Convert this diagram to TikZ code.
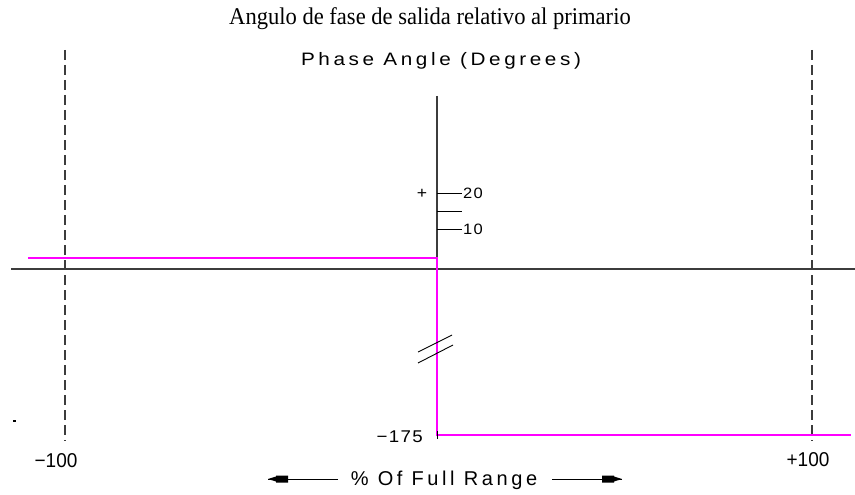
\documentclass[tikz,border=0pt]{standalone}
\usepackage{fontspec}
\setmainfont{Liberation Serif}
\newfontfamily\cadfont{Liberation Sans}[LetterSpace=20,FakeStretch=1.15]
\newfontfamily\rangefont{Liberation Sans}[LetterSpace=18]
\newfontfamily\numfont{Liberation Sans}[LetterSpace=8,FakeStretch=1.1]
\newfontfamily\bignumfont{Liberation Sans}[FakeStretch=0.95]
\newfontfamily\titlefont{Liberation Serif}[FakeStretch=0.94]
\definecolor{mag}{RGB}{255,0,255}
\definecolor{ax}{RGB}{60,60,60}
\begin{document}
\begin{tikzpicture}[x=1pt,y=-1pt,
  axis/.style={draw=ax,line width=1.3pt},
  magline/.style={draw=mag,line width=1.5pt},
  guide/.style={draw=ax,line width=1.2pt,dash pattern=on 10pt off 5pt},
  txt/.style={inner sep=0pt,text=black},
  tick/.style={draw=black,line width=1pt}]
\useasboundingbox (0,0) rectangle (855,495);
% title
\node[txt,anchor=base,font=\titlefont\fontsize{24}{24}\selectfont] (title) at (430,25) {Angulo de fase de salida relativo al primario};
\node[txt,anchor=base,font=\cadfont\fontsize{18}{18}\selectfont] (ylabel) at (441,66) {Phase Angle (Degrees)};
% guides
\coordinate (gl1) at (65,50); \coordinate (gl2) at (65,441);
\coordinate (gr1) at (812,50); \coordinate (gr2) at (812,441);
\draw[guide] (gl1) -- (gl2);
\draw[guide] (gr1) -- (gr2);
% axes
\coordinate (xa1) at (11,269); \coordinate (xa2) at (855,269);
\coordinate (ya1) at (437,96); \coordinate (ya2) at (437,269);
\draw[axis] (xa1) -- (xa2);
\draw[axis] (ya1) -- (ya2);
% ticks
\coordinate (t20) at (437,193); \coordinate (t20e) at (462,193);
\coordinate (t15) at (437,211); \coordinate (t15e) at (462,211);
\coordinate (t10) at (437,229); \coordinate (t10e) at (462,229);
\draw[tick] (t20) -- (t20e);
\draw[tick] (t15) -- (t15e);
\draw[tick] (t10) -- (t10e);
\node[txt,anchor=base west,font=\numfont\fontsize{15}{15}\selectfont] (l20) at (463,198.5) {20};
\node[txt,anchor=base west,font=\numfont\fontsize{15}{15}\selectfont] (l10) at (463,234.5) {10};
\node[txt,font=\numfont\fontsize{16}{16}\selectfont] (plus) at (422,194) {+};
% magenta curve
\coordinate (m1) at (28,258); \coordinate (m2) at (437,258);
\coordinate (m3) at (437,435); \coordinate (m4) at (851,435);
\draw[magline] (m1) -- (m2) -- (m3) -- (m4);
\coordinate (bt1) at (437,431); \coordinate (bt2) at (437,439);
\draw[tick] (bt1) -- (bt2);
% break marks
\coordinate (b1a) at (418,352); \coordinate (b1b) at (452,335);
\coordinate (b2a) at (418,363); \coordinate (b2b) at (453,345);
\draw[black,line width=0.9pt] (b1a) -- (b1b);
\draw[black,line width=0.9pt] (b2a) -- (b2b);
% labels
\node[txt,anchor=base east,font=\numfont\fontsize{17}{17}\selectfont] (l175) at (423,442) {−175};
\node[txt,anchor=base,font=\bignumfont\fontsize{20}{20}\selectfont] (lm100) at (56,467) {−100};
\node[txt,anchor=base,font=\bignumfont\fontsize{20}{20}\selectfont] (lp100) at (808,466) {+100};
\fill[black] (12.5,420) rectangle (15.5,422);
% range label
\node[txt,anchor=base,font=\rangefont\fontsize{20}{20}\selectfont] (range) at (444,485) {\% Of Full Range};
\coordinate (al) at (268,479); \coordinate (ar) at (622,479);
\coordinate (rl) at (338,479); \coordinate (rr) at (552,479);
\draw[black,line width=1pt] (rl) -- (al);
\draw[black,line width=1pt] (rr) -- (ar);
\fill[black] (al) -- ++(8,-2.5) -- ++(0,-1) -- ++(12,0) -- ++(0,7) -- ++(-12,0) -- ++(0,-1) -- cycle;
\fill[black] (ar) -- ++(-8,-2.5) -- ++(0,-1) -- ++(-12,0) -- ++(0,7) -- ++(12,0) -- ++(0,-1) -- cycle;
\end{tikzpicture}
\end{document}
